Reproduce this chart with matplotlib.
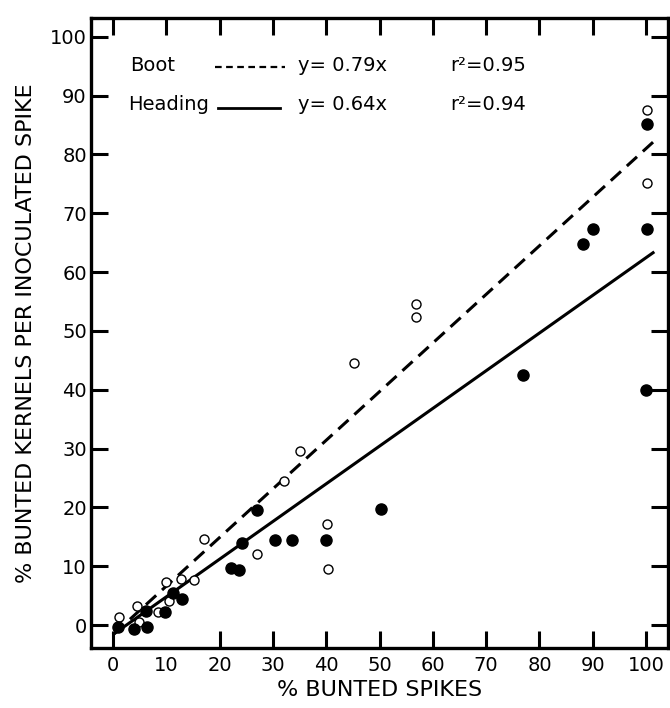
import matplotlib
matplotlib.use("Agg")
import matplotlib.pyplot as plt
import numpy as np

plt.rcParams['font.family'] = ['DejaVu Sans']

# Boot stage (open circles)
boot_x = [1.1, 4.6, 4.9, 8.4, 9.9, 10.6, 12.7, 15.3, 17.0, 27.1, 32.1, 35.1,
          40.2, 40.3, 45.3, 56.8, 56.8, 100.2, 100.2]
boot_y = [1.4, 3.2, 0.6, 2.2, 7.4, 4.1, 7.9, 7.7, 14.6, 12.1, 24.5, 29.6,
          17.1, 9.5, 44.6, 54.6, 52.3, 87.6, 75.2]

# Heading stage (filled circles)
head_x = [1.0, 4.0, 6.4, 6.3, 9.7, 11.3, 13.0, 24.2, 27.1, 22.1, 23.7, 30.4,
          33.6, 40.0, 50.2, 76.9, 88.2, 90.1, 100.2, 100.2, 100.0]
head_y = [-0.3, -0.6, -0.3, 2.4, 2.2, 5.5, 4.4, 14.0, 19.5, 9.7, 9.4, 14.4,
          14.4, 14.4, 19.7, 42.5, 64.8, 67.3, 67.3, 85.2, 40.0]

# fitted lines as drawn in the figure (end points)
fit_x = [0.2, 101.3]
boot_fit_y = [-1.5, 82.1]
head_fit_y = [-1.5, 63.3]

xticks = list(range(0, 101, 10))
yticks = list(range(0, 101, 10))

fig = plt.figure(figsize=(6.7, 7.08), dpi=100)
ax = fig.add_axes([91 / 670, 1 - 648 / 708, 577 / 670, 630 / 708])

ax.plot(fit_x, boot_fit_y, color='black', lw=2.2, dashes=(4.5, 2.6))
ax.plot(fit_x, head_fit_y, color='black', lw=2.2)

ax.plot(boot_x, boot_y, 'o', ms=6.5, mfc='white', mec='black', mew=1.0)
ax.plot(head_x, head_y, 'o', ms=8, mfc='black', mec='black')

ax.set_xlim(-4.1, 104.1)
ax.set_ylim(-3.9, 103.2)

ax.set_xticks(xticks)
ax.set_yticks(yticks)
ax.tick_params(axis='both', direction='in', length=12, width=2.2,
               labelsize=14, top=True, right=True)
ax.tick_params(axis='x', pad=6)
ax.tick_params(axis='y', pad=3)
# no bottom tick mark at 10 in the original
ax.xaxis.get_major_ticks()[1].tick1line.set_visible(False)

for s in ax.spines.values():
    s.set_linewidth(2.4)

ax.set_xlabel('% BUNTED SPIKES', fontsize=16, labelpad=3)
ax.set_ylabel('% BUNTED KERNELS PER INOCULATED SPIKE', fontsize=16, labelpad=10)

# legend written into the plot area
ax.text(0.068, 0.925, 'Boot', transform=ax.transAxes, fontsize=14, va='center')
ax.plot([0.215, 0.336], [0.922, 0.922], transform=ax.transAxes,
        color='black', lw=1.6, dashes=(3, 2))
ax.text(0.359, 0.925, 'y= 0.79x', transform=ax.transAxes, fontsize=14, va='center')
ax.text(0.622, 0.925, 'r²=0.95', transform=ax.transAxes, fontsize=14, va='center')

ax.text(0.064, 0.863, 'Heading', transform=ax.transAxes, fontsize=14, va='center')
ax.plot([0.220, 0.328], [0.857, 0.857], transform=ax.transAxes,
        color='black', lw=2.0)
ax.text(0.359, 0.863, 'y= 0.64x', transform=ax.transAxes, fontsize=14, va='center')
ax.text(0.622, 0.863, 'r²=0.94', transform=ax.transAxes, fontsize=14, va='center')

fig.savefig('out.png', dpi=100)
